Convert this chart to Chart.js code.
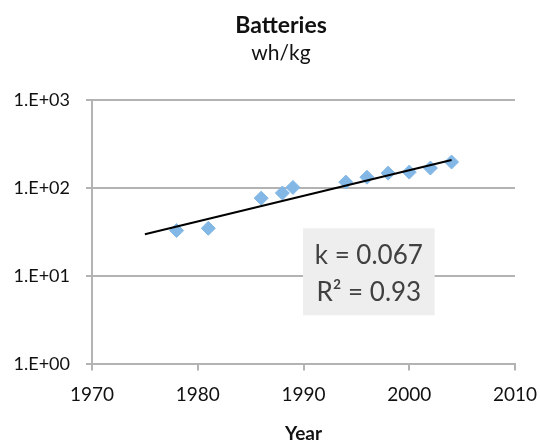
<!DOCTYPE html>
<html>
<head>
<meta charset="utf-8">
<script src="https://cdn.jsdelivr.net/npm/chart.js@4/dist/chart.umd.min.js"></script>
<style>
  html, body { margin: 0; padding: 0; background: #fff; }
  #wrap { width: 540px; height: 445px; }
</style>
</head>
<body>
<div id="wrap"><canvas id="chart"></canvas></div>
<script>
    // data
    const years = [1978, 1981, 1986, 1988, 1989, 1994, 1996, 1998, 2000, 2002, 2004];
    const whPerKg = [33, 35, 77, 88, 102, 117, 133, 148, 152, 169, 198];
    const trendYears = [1975, 2004];
    const trendValues = [30, 209];
    const yTickValues = [1, 10, 100, 1000];
    const yTickLabels = ['1.E+00', '1.E+01', '1.E+02', '1.E+03'];
    const fitLines = ['k = 0.067', 'R² = 0.93'];

    const FONT = 'Lato, "Open Sans", sans-serif';
    const GRID = '#b3b3b3';

    // title + subtitle drawn by hand so they sit where the original has them
    const titlePlugin = {
        id: 'titles',
        afterDraw(chart) {
            const ctx = chart.ctx;
            ctx.save();
            ctx.fillStyle = '#111';
            ctx.textAlign = 'center';
            ctx.textBaseline = 'middle';
            ctx.font = 'bold 23px ' + FONT;
            ctx.fillText('Batteries', 281, 26);
            ctx.font = '21px ' + FONT;
            ctx.fillText('wh/kg', 281, 53);
            ctx.restore();
        }
    };

    // grey box with the fit numbers, over the grid but under the points
    const fitBox = {
        id: 'fitBox',
        beforeDatasetsDraw(chart) {
            const x = chart.scales.x, y = chart.scales.y;
            const left = x.getPixelForValue(1989.95);
            const right = x.getPixelForValue(2002.4);
            const top = y.getPixelForValue(35);
            const bottom = y.getPixelForValue(3.6);
            const ctx = chart.ctx;
            ctx.save();
            ctx.fillStyle = '#eeeeee';
            ctx.fillRect(left, top, right - left, bottom - top);
            ctx.fillStyle = '#404040';
            ctx.font = '26px ' + FONT;
            ctx.textAlign = 'center';
            ctx.textBaseline = 'middle';
            const cx = (left + right) / 2;
            ctx.fillText(fitLines[0], cx, top + 27);
            ctx.fillText(fitLines[1], cx, top + 64);
            ctx.restore();
        }
    };

    new Chart(document.getElementById('chart'), {
        type: 'scatter',
        data: {
            datasets: [{
                label: 'wh/kg',
                data: years.map((yr, i) => ({x: yr, y: whPerKg[i]})),
                backgroundColor: '#82b7e6',
                borderColor: '#82b7e6',
                pointStyle: 'rectRot',
                pointRadius: 7,
                pointHoverRadius: 7,
                order: 2
            }, {
                label: 'trend',
                type: 'line',
                data: trendYears.map((yr, i) => ({x: yr, y: trendValues[i]})),
                borderColor: '#000',
                borderWidth: 2,
                pointRadius: 0,
                fill: false,
                order: 1
            }]
        },
        options: {
            responsive: true,
            maintainAspectRatio: false,
            animation: false,
            layout: { padding: { top: 100, right: 25, left: 12, bottom: 0 } },
            plugins: {
                legend: { display: false },
                tooltip: { enabled: false }
            },
            scales: {
                x: {
                    type: 'linear',
                    min: 1970,
                    max: 2010,
                    afterFit: axis => { axis.paddingLeft = 0; axis.paddingRight = 0; },
                    ticks: { stepSize: 10, color: '#111', font: { family: FONT, size: 19 }, padding: 13,
                        callback: v => String(v) },
                    grid: { drawOnChartArea: false, drawTicks: true, tickLength: 6, color: GRID, lineWidth: 2 },
                    border: { color: GRID, width: 2 },
                    title: { display: true, text: 'Year', color: '#111',
                        font: { family: FONT, size: 19, weight: 'bold' }, padding: { top: 3, bottom: 0 } }
                },
                y: {
                    type: 'logarithmic',
                    min: 1,
                    max: 1000,
                    afterBuildTicks: axis => { axis.ticks = yTickValues.map(v => ({value: v})); },
                    afterFit: axis => { axis.width = 80; },
                    ticks: { color: '#111', font: { family: FONT, size: 18 }, padding: 16,
                        callback: v => yTickLabels[yTickValues.indexOf(v)] },
                    grid: { color: GRID, lineWidth: 2, tickLength: 6 },
                    border: { color: GRID, width: 2 }
                }
            }
        },
        plugins: [titlePlugin, fitBox]
    });
</script>
</body>
</html>
